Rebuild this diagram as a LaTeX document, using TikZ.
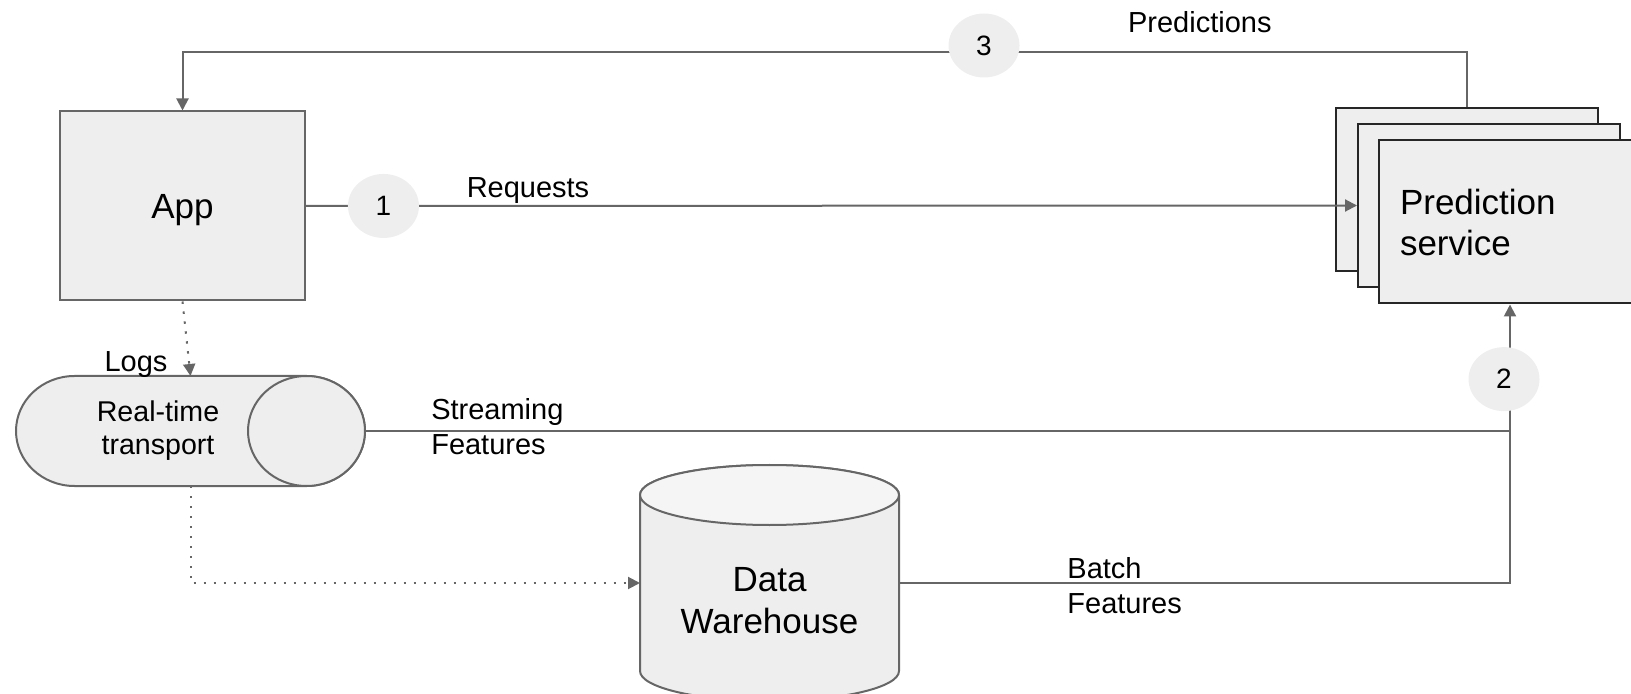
\documentclass[tikz,border=0pt]{standalone}
\usepackage{fontspec}
\setmainfont{Liberation Sans}
\usetikzlibrary{arrows.meta,shapes.geometric}
\definecolor{boxfill}{HTML}{EEEEEE}
\definecolor{capfill}{HTML}{F5F5F5}
\definecolor{linegray}{HTML}{666666}
\tikzset{
  box/.style        = {rectangle, draw=linegray, fill=boxfill, line width=1pt,
                       font=\fontsize{17.5}{20.5}\selectfont},
  stackbox/.style   = {box, draw=black!85, minimum width=131pt, minimum height=81.5pt},
  storenode/.style  = {rectangle, inner sep=0pt, outer sep=0pt},
  storeshape/.style = {draw=linegray, fill=boxfill, line width=1pt},
  storetext/.style  = {align=center, inner sep=0pt},
  numcircle/.style  = {ellipse, fill=boxfill, minimum width=35.5pt, minimum height=32pt,
                       inner sep=0pt, font=\fontsize{14}{16}\selectfont},
  flowlabel/.style  = {font=\fontsize{14.5}{17.5}\selectfont, align=left, inner sep=0pt},
  flow/.style       = {draw=linegray, line width=1pt},
  logflow/.style    = {flow, dash pattern=on 1.2pt off 3.8pt},
  arrowed/.style    = {-{Triangle[length=6pt,width=6pt]}}
}

\begin{document}
\begin{tikzpicture}[x=0.5pt, y=-0.5pt]
  \useasboundingbox (0,0) rectangle (1631,694);

  \node[box, minimum width=122.5pt, minimum height=94.5pt, text depth=0pt] (app) at (182.5,206) {App};

  % stacked service boxes
  \foreach \name/\x/\y in {predback/1467/190, predmid/1489/205.5}
    \node[stackbox] (\name) at (\x,\y) {};
  \node[stackbox, text width=110pt, inner xsep=10.5pt, align=left] (pred) at (1510,222)
    {Prediction\\service};

  % real-time transport, lying cylinder
  \node[storenode, minimum width=174.5pt, minimum height=55pt] (rtt) at (190.5,431) {};
  \path[storeshape] ([xshift=29.25pt]rtt.north west) -- ([xshift=-29.25pt]rtt.north east)
    arc[start angle=90, end angle=-90, x radius=29.25pt, y radius=27.5pt]
    -- ([xshift=29.25pt]rtt.south west)
    arc[start angle=270, end angle=90, x radius=29.25pt, y radius=27.5pt] -- cycle;
  \path[storeshape] ([xshift=-29.25pt]rtt.east) ellipse [x radius=29.25pt, y radius=27.5pt];
  \node[storetext, font=\fontsize{14.3}{16.5}\selectfont] (rttlabel)
    at ([xshift=-16.25pt]rtt.center) {Real-time\\transport};

  % data warehouse, standing cylinder
  \node[storenode, minimum width=129.5pt, minimum height=118pt] (dw) at (769.5,583) {};
  \path[storeshape] ([yshift=-15pt]dw.north west) -- ([yshift=15pt]dw.south west)
    arc[start angle=180, end angle=360, x radius=64.75pt, y radius=15pt]
    -- ([yshift=-15pt]dw.north east)
    arc[start angle=0, end angle=180, x radius=64.75pt, y radius=15pt] -- cycle;
  \path[storeshape, fill=capfill] ([yshift=-15pt]dw.north) ellipse [x radius=64.75pt, y radius=15pt];
  \node[storetext, font=\fontsize{17.5}{21}\selectfont] (dwlabel)
    at ([yshift=-9pt]dw.center) {Data\\Warehouse};

  \draw[flow, arrowed] (app.east) -- (predmid.west)
    node[numcircle, pos=0.0737] (one) {1}
    node[flowlabel, anchor=base west, pos=0.152, yshift=4pt] (requests) {Requests};
  \draw[flow, arrowed] (predback.north) -- ++(0,-55) -| (app.north)
    node[numcircle, pos=0.188, yshift=3.5pt] (three) {3}
    node[flowlabel, anchor=base, pos=0.104, yshift=10pt] (predictions) {Predictions};
  \draw[flow] (rtt.east) -- (rtt.east -| pred.south)
    node[flowlabel, anchor=base west, pos=0.057, yshift=-12pt] (streaming) {Streaming\\Features};
  \draw[flow, arrowed] (dw.east) -| (pred.south)
    node[flowlabel, anchor=base west, pos=0.137, yshift=-15pt] (batch) {Batch\\Features}
    node[numcircle, pos=0.866, xshift=-3pt] (two) {2};
  \draw[logflow, arrowed] (app.south) -- (rtt.north)
    node[flowlabel, anchor=base east, pos=1, xshift=-11pt, yshift=2pt] (logs) {Logs};
  \draw[logflow, arrowed] (rtt.south) |- (dw.west);
\end{tikzpicture}
\end{document}
